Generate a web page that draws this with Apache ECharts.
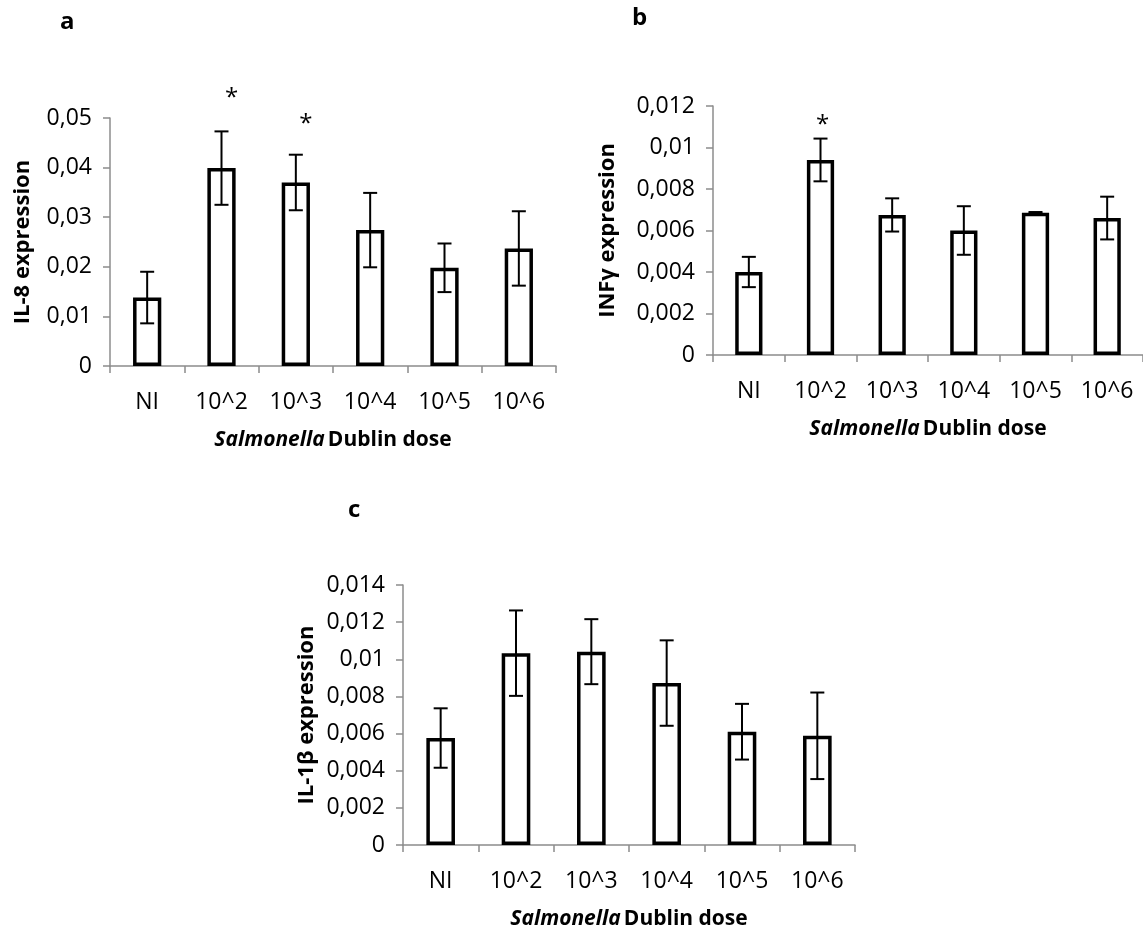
<!DOCTYPE html>
<html>
<head>
<meta charset="utf-8">
<script src="https://cdn.jsdelivr.net/npm/echarts@6/dist/echarts.min.js"></script>
<style>
  html, body { margin: 0; padding: 0; background: #fff; }
  #chart { width: 1143px; height: 935px; }
</style>
</head>
<body>
<div id="chart"></div>
<script>
// values (mean, +/- error, asterisk height)
const categories = ['NI', '10^2', '10^3', '10^4', '10^5', '10^6'];

const il8Values = [0.0138, 0.0399, 0.0370, 0.0274, 0.0198, 0.0237];
const il8Errors = [0.0052, 0.0074, 0.0056, 0.0075, 0.0049, 0.0075];
const il8Stars = [null, 0.0554, 0.0502, null, null, null];
const il8Ticks = [0, 0.05, 0.01];

const infgValues = [0.0040, 0.0094, 0.00675, 0.0060, 0.00685, 0.0066];
const infgErrors = [0.00073, 0.00103, 0.0008, 0.00117, 0.00004, 0.00103];
const infgStars = [null, 0.01142, null, null, null, null];
const infgTicks = [0, 0.012, 0.002];

const il1bValues = [0.00576, 0.01033, 0.01041, 0.00872, 0.0061, 0.00588];
const il1bErrors = [0.0016, 0.0023, 0.00175, 0.0023, 0.0015, 0.00233];
const il1bStars = [null, null, null, null, null, null];
const il1bTicks = [0, 0.014, 0.002];

const FONT = 'Open Sans';

const panels = [
    { letter: 'a', letterPos: [60, 10], grid: { left: 110, top: 118, width: 446, height: 248 },
      ticks: il8Ticks, name: 'IL-8 expression', nameGap: 76,
      values: il8Values, errors: il8Errors, stars: il8Stars, starDx: 10 },
    { letter: 'b', letterPos: [632, 6], grid: { left: 713, top: 106, width: 432, height: 249 },
      ticks: infgTicks, name: 'INFγ expression', nameGap: 94,
      values: infgValues, errors: infgErrors, stars: infgStars, starDx: 2 },
    { letter: 'c', letterPos: [348, 498], grid: { left: 403, top: 585, width: 452, height: 260 },
      ticks: il1bTicks, name: 'IL-1β expression', nameGap: 85,
      values: il1bValues, errors: il1bErrors, stars: il1bStars, starDx: 0 }
];

const fmt = v => v === 0 ? '0' : String(parseFloat(v.toFixed(4))).replace('.', ',');
const axisGrey = '#8c8c8c';

const option = {
    animation: false,
    backgroundColor: '#fff',
    textStyle: { fontFamily: FONT, color: '#000' },
    title: [],
    grid: [],
    xAxis: [],
    yAxis: [],
    series: []
};

panels.forEach((p, i) => {
    option.title.push({
        text: p.letter, left: p.letterPos[0], top: p.letterPos[1], padding: 0,
        textStyle: { fontFamily: FONT, fontSize: 24, fontWeight: 'bold', color: '#000' }
    });
    option.grid.push(p.grid);
    option.xAxis.push({
        type: 'category', gridIndex: i, data: categories,
        axisLine: { lineStyle: { color: axisGrey, width: 1.5 } },
        axisTick: { show: true, length: 7, lineStyle: { color: axisGrey, width: 1.5 } },
        axisLabel: { interval: 0, fontSize: 23, color: '#000', margin: 25, fontFamily: FONT },
        name: '{i|Salmonella} {b|Dublin dose}',
        nameLocation: 'middle', nameGap: 64,
        nameTextStyle: {
            rich: {
                i: { fontFamily: FONT, fontSize: 21, fontWeight: 'bold', fontStyle: 'italic', color: '#000' },
                b: { fontFamily: FONT, fontSize: 21, fontWeight: 'bold', color: '#000' }
            }
        }
    });
    option.yAxis.push({
        type: 'value', gridIndex: i,
        min: p.ticks[0], max: p.ticks[1], interval: p.ticks[2],
        splitLine: { show: false },
        axisLine: { show: true, lineStyle: { color: axisGrey, width: 1.5 } },
        axisTick: { show: true, length: 7, lineStyle: { color: axisGrey, width: 1.5 } },
        axisLabel: { fontSize: 23, color: '#000', margin: 18, fontFamily: FONT, formatter: fmt },
        name: p.name, nameLocation: 'middle', nameRotate: 90, nameGap: p.nameGap,
        nameTextStyle: { fontFamily: FONT, fontSize: 22, fontWeight: 'bold', color: '#000' }
    });

    option.series.push({
        type: 'bar', xAxisIndex: i, yAxisIndex: i,
        data: p.values, barWidth: '38%',
        itemStyle: { color: '#fff', borderColor: '#000', borderWidth: 3.5 }
    });

    // error bars
    option.series.push({
        type: 'custom', xAxisIndex: i, yAxisIndex: i, z: 5,
        data: p.values.map((v, k) => [k, v - p.errors[k], v + p.errors[k]]),
        encode: { x: 0, y: [1, 2] },
        renderItem: (params, api) => {
            const x = api.value(0);
            const lo = api.coord([x, api.value(1)]);
            const hi = api.coord([x, api.value(2)]);
            const hw = 7;
            const st = { stroke: '#000', lineWidth: 2 };
            return {
                type: 'group',
                children: [
                    { type: 'line', shape: { x1: hi[0], y1: hi[1], x2: lo[0], y2: lo[1] }, style: st },
                    { type: 'line', shape: { x1: hi[0] - hw, y1: hi[1], x2: hi[0] + hw, y2: hi[1] }, style: st },
                    { type: 'line', shape: { x1: lo[0] - hw, y1: lo[1], x2: lo[0] + hw, y2: lo[1] }, style: st }
                ]
            };
        }
    });

    // significance asterisks
    const starData = p.stars.map((s, k) => s == null ? null : [k, s]).filter(d => d);
    if (starData.length) {
        option.series.push({
            type: 'custom', xAxisIndex: i, yAxisIndex: i, z: 6, clip: false,
            data: starData,
            renderItem: (params, api) => {
                const pt = api.coord([api.value(0), api.value(1)]);
                return {
                    type: 'text',
                    style: {
                        x: pt[0] + p.starDx, y: pt[1] + 7, text: '*',
                        fontFamily: FONT, fontSize: 24, fill: '#000',
                        align: 'center', verticalAlign: 'middle'
                    }
                };
            }
        });
    }
});

const chart = echarts.init(document.getElementById('chart'));
chart.setOption(option);
</script>
</body>
</html>
